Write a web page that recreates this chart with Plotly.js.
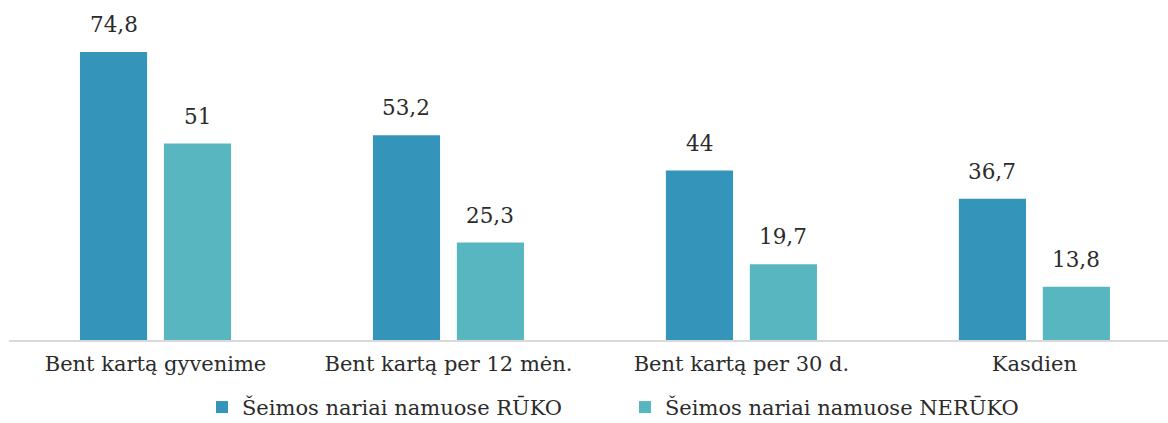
<!DOCTYPE html>
<html>
<head>
<meta charset="utf-8">
<script src="https://cdn.plot.ly/plotly-3.0.1.min.js"></script>
<style>html,body{margin:0;padding:0;background:#fff;}#chart{width:1168px;height:423px;}</style>
</head>
<body>
<div id="chart"></div>
<script>
const categories = ["Bent kartą gyvenime", "Bent kartą per 12 mėn.", "Bent kartą per 30 d.", "Kasdien"];
const seriesNames = ["Šeimos nariai namuose RŪKO", "Šeimos nariai namuose NERŪKO"];
const rukoValues = [74.8, 53.2, 44, 36.7];
const nerukoValues = [51, 25.3, 19.7, 13.8];
const rukoLabels = ["74,8", "53,2", "44", "36,7"];
const nerukoLabels = ["51", "25,3", "19,7", "13,8"];

const colors = ["#3494ba", "#58b6c0"];
const fontFamily = 'DejaVu Serif';
const fs = 21;
const textColor = "#2b2b2b";

const traces = [
  {type: "bar", name: seriesNames[0], x: categories, y: rukoValues,
   marker: {color: colors[0], line: {width: 0}}, hoverinfo: "skip"},
  {type: "bar", name: seriesNames[1], x: categories, y: nerukoValues,
   marker: {color: colors[1], line: {width: 0}}, hoverinfo: "skip"}
];

const offset = 0.1433;
const annotations = [];
categories.forEach((c, i) => {
  annotations.push({x: i - offset, y: rukoValues[i], xref: "x", yref: "y", text: rukoLabels[i],
    showarrow: false, yanchor: "bottom", yshift: 13, font: {family: fontFamily, size: 21.5, color: textColor}});
  annotations.push({x: i + offset, y: nerukoValues[i], xref: "x", yref: "y", text: nerukoLabels[i],
    showarrow: false, yanchor: "bottom", yshift: 13, font: {family: fontFamily, size: 21.5, color: textColor}});
});

const layout = {
  width: 1168, height: 423,
  margin: {l: 9, r: 0, t: 0, b: 83, autoexpand: false},
  paper_bgcolor: "#ffffff", plot_bgcolor: "#ffffff",
  barmode: "group", bargap: 0.427, bargroupgap: 0.2,
  font: {family: fontFamily, size: fs, color: textColor},
  xaxis: {type: "category", range: [-0.5, 3.456], showline: true, linecolor: "#d9d9d9", linewidth: 2,
          ticks: "", showgrid: false, zeroline: false, fixedrange: true, automargin: false,
          tickfont: {family: fontFamily, size: fs, color: textColor}, ticklabelstandoff: 4},
  yaxis: {range: [0, 88.3], visible: false, showgrid: false, zeroline: false, fixedrange: true},
  showlegend: true,
  legend: {orientation: "h", x: 0.1665, xanchor: "left", y: -0.138, yanchor: "top",
           entrywidth: 378, entrywidthmode: "pixels", traceorder: "normal",
           font: {family: fontFamily, size: fs, color: textColor}, bgcolor: "rgba(0,0,0,0)"},
  annotations: annotations
};

Plotly.newPlot("chart", traces, layout, {staticPlot: true, displayModeBar: false});
</script>
</body>
</html>
